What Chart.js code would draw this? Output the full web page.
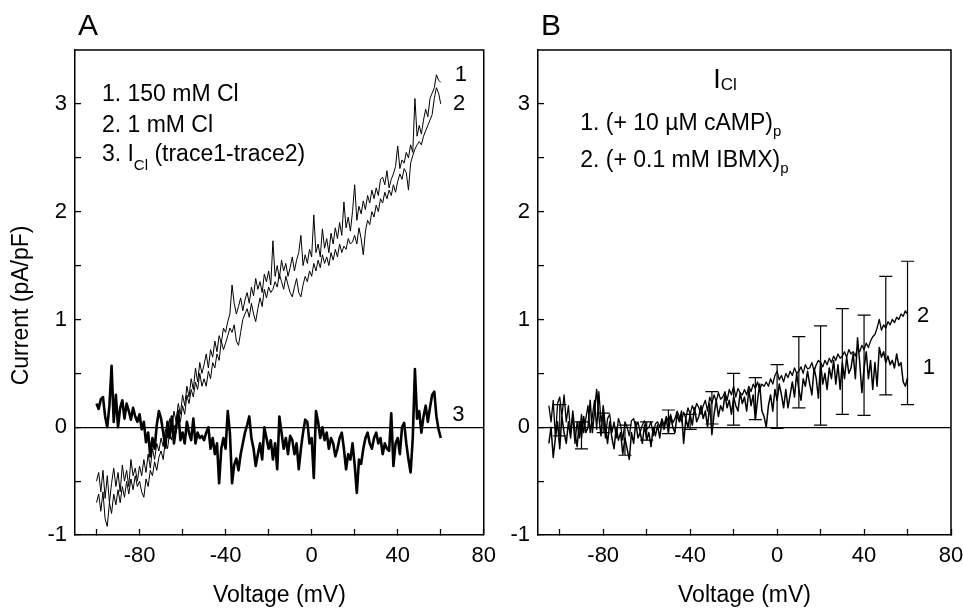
<!DOCTYPE html>
<html>
<head>
<meta charset="utf-8">
<title>I-V curves</title>
<script src="https://cdn.jsdelivr.net/npm/chart.js@4.4.1/dist/chart.umd.min.js"></script>
<style>
    html, body { margin: 0; padding: 0; background: #fff; }
    #wrap { position: relative; width: 963px; height: 609px; overflow: hidden; }
    #panel-a { position: absolute; left: 0; top: 0; }
    #panel-b { position: absolute; left: 480px; top: 0; }
</style>
</head>
<body>
<div id="wrap">
    <canvas id="panel-a" width="510" height="609"></canvas>
    <canvas id="panel-b" width="500" height="609"></canvas>
</div>
<script>
// Panel A: voltage steps of 1 mV from -100 to 60
const voltageA = Array.from({ length: 161 }, (_, i) => -100 + i);

// trace 1: 150 mM Cl
const currentA1 = [
    -0.50, -0.42, -0.60, -0.40, -0.66, -0.45, -0.70, -0.52, -0.38, -0.55,
    -0.42, -0.60, -0.35, -0.50, -0.40, -0.55, -0.30, -0.45, -0.38, -0.50,
    -0.36, -0.45, -0.30, -0.42, -0.25, -0.38, -0.20, -0.30, -0.15, -0.22,
    -0.10, -0.18, -0.02, -0.10, 0.08, -0.02, 0.15, 0.05, 0.22, 0.12,
    0.30, 0.20, 0.38, 0.28, 0.45, 0.35, 0.55, 0.42, 0.60, 0.50,
    0.58, 0.68, 0.55, 0.72, 0.65, 0.80, 0.70, 0.85, 0.78, 0.92,
    0.88, 0.98, 1.05, 1.32, 1.15, 1.05, 1.12, 1.20, 1.08, 1.18,
    1.25, 1.15, 1.30, 1.22, 1.38, 1.28, 1.35, 1.25, 1.42, 1.35,
    1.45, 1.32, 1.73, 1.40, 1.50, 1.38, 1.55, 1.45, 1.52, 1.40,
    1.48, 1.58, 1.45, 1.55, 1.62, 1.78, 1.50, 1.60, 1.52, 1.65,
    1.58, 1.97, 1.62, 1.70, 1.58, 1.84, 1.66, 1.75, 1.62, 1.80,
    1.70, 1.85, 1.75, 1.90, 1.78, 2.09, 1.85, 1.95, 1.82, 2.00,
    2.25, 1.92, 2.05, 1.98, 2.10, 2.02, 2.15, 2.08, 2.20, 2.12,
    2.22, 2.15, 2.30, 2.32, 2.25, 2.38, 2.22, 2.30, 2.35, 2.42,
    2.61, 2.40, 2.48, 2.45, 2.55, 2.50, 2.62, 2.55, 3.05, 2.70,
    2.80, 2.72, 2.85, 2.95, 2.88, 3.05, 3.10, 3.15, 3.27, 3.22, 3.20,
];

// trace 2: 1 mM Cl
const currentA2 = [
    -0.70, -0.62, -0.78, -0.60, -0.85, -0.92, -0.70, -0.80, -0.62, -0.72,
    -0.58, -0.70, -0.55, -0.65, -0.50, -0.62, -0.48, -0.58, -0.45, -0.55,
    -0.50, -0.60, -0.65, -0.48, -0.55, -0.40, -0.45, -0.32, -0.40, -0.28,
    -0.22, -0.30, -0.12, -0.20, -0.05, -0.12, 0.02, -0.05, 0.12, 0.05,
    0.20, 0.12, 0.30, 0.22, 0.35, 0.28, 0.42, 0.35, 0.50, 0.38,
    0.45, 0.38, 0.52, 0.45, 0.60, 0.55, 0.68, 0.62, 0.80, 0.72,
    0.78, 0.85, 0.92, 0.88, 0.95, 0.80, 0.76, 0.88, 1.00, 1.05,
    1.10, 1.02, 1.15, 1.05, 0.98, 1.10, 1.20, 1.12, 1.28, 1.20,
    1.30, 1.25, 1.28, 1.35, 1.30, 1.42, 1.35, 1.28, 1.40, 1.32,
    1.25, 1.21, 1.30, 1.38, 1.25, 1.21, 1.32, 1.40, 1.35, 1.45,
    1.40, 1.52, 1.45, 1.55, 1.48, 1.60, 1.52, 1.58, 1.50, 1.62,
    1.55, 1.65, 1.58, 1.70, 1.62, 1.68, 1.65, 1.75, 1.70, 1.72,
    1.78, 1.70, 1.85, 1.75, 1.60, 1.82, 1.92, 1.88, 2.00, 1.95,
    2.06, 2.00, 2.12, 2.08, 2.18, 2.12, 2.20, 2.15, 2.25, 2.18,
    2.28, 2.35, 2.30, 2.40, 2.36, 2.20, 2.45, 2.52, 2.58, 2.62,
    2.65, 2.62, 2.70, 2.75, 2.80, 2.85, 2.90, 3.05, 3.15, 3.10, 3.00,
];

// trace 3: I_Cl (trace1 - trace2)
const currentA3 = [
    0.22, 0.17, 0.26, 0.28, 0.10, 0.00, 0.20, 0.57, 0.05, 0.30,
    0.00, 0.18, 0.25, 0.08, 0.22, 0.15, 0.07, 0.18, 0.10, 0.05,
    0.12, -0.02, 0.05, -0.14, -0.05, -0.27, -0.10, -0.20, 0.02, 0.15,
    0.08, -0.05, -0.19, 0.05, -0.10, 0.10, -0.15, 0.00, 0.15, -0.12,
    -0.05, -0.15, 0.05, -0.05, -0.12, 0.08, -0.15, -0.05, -0.10, -0.08,
    -0.12, -0.05, 0.00, -0.20, -0.10, -0.25, -0.15, -0.52, -0.20, -0.10,
    -0.20, 0.15, -0.05, -0.52, -0.35, -0.29, -0.40, -0.25, -0.15, -0.05,
    0.02, 0.10, -0.10, -0.20, -0.36, -0.25, -0.15, -0.30, 0.00, -0.10,
    -0.20, -0.12, -0.30, -0.15, -0.39, 0.10, -0.05, -0.20, -0.10, -0.25,
    -0.08, -0.12, -0.25, -0.15, -0.39, -0.20, -0.05, 0.07, 0.05, -0.15,
    -0.10, -0.47, 0.15, 0.05, -0.10, 0.00, -0.12, -0.05, -0.20, -0.10,
    -0.15, -0.27, -0.20, -0.10, -0.05, -0.20, -0.39, -0.25, -0.30, -0.15,
    -0.35, -0.61, -0.30, -0.34, -0.20, -0.10, -0.05, -0.15, -0.20, -0.10,
    -0.05, -0.15, -0.10, -0.25, -0.15, -0.20, -0.22, 0.13, -0.36, -0.15,
    -0.10, -0.25, 0.00, 0.04, -0.15, -0.30, -0.42, -0.10, 0.54, 0.08,
    0.15, -0.05, 0.10, 0.20, 0.05, 0.18, 0.30, 0.33, 0.10, -0.02, -0.10,
];

// Panel B: voltage steps of 1 mV from -105 to 60
const voltageB = Array.from({ length: 166 }, (_, i) => -105 + i);

// trace 1: + 10 uM cAMP (pipette)
const currentB1 = [
    -0.15, 0.00, -0.28, -0.10, 0.05, -0.20, 0.10, -0.05, -0.15, 0.05,
    -0.10, 0.15, -0.05, -0.18, 0.05, -0.10, 0.10, -0.05, 0.00, 0.25,
    -0.05, 0.15, 0.35, 0.10, -0.08, 0.20, 0.00, -0.15, 0.05, -0.10,
    -0.20, 0.00, -0.12, -0.05, -0.25, -0.10, -0.20, -0.30, -0.05, -0.15,
    0.05, -0.10, -0.05, -0.15, 0.02, -0.12, -0.05, -0.18, 0.00, -0.08,
    0.02, -0.10, 0.05, -0.02, 0.08, -0.05, 0.10, 0.00, -0.05, 0.12,
    0.05, 0.15, -0.15, 0.08, 0.00, 0.12, 0.02, 0.18, 0.05, 0.10,
    0.20, 0.08, 0.15, 0.00, 0.22, -0.07, 0.12, 0.25, 0.10, 0.20,
    0.15, 0.30, 0.18, 0.25, 0.12, 0.28, 0.20, 0.15, 0.32, 0.22,
    0.28, 0.15, 0.35, 0.20, 0.30, 0.07, 0.25, 0.40, 0.15, 0.10,
    0.00, 0.20, 0.30, 0.15, 0.35, 0.25, 0.40, 0.30, 0.18, 0.35,
    0.18, 0.30, 0.42, 0.28, 0.50, 0.35, 0.25, 0.45, 0.38, 0.52,
    0.40, 0.30, 0.55, 0.45, 0.27, 0.60, 0.40, 0.50, 0.35, 0.55,
    0.45, 0.62, 0.40, 0.58, 0.35, 0.60, 0.45, 0.65, 0.50, 0.55,
    0.68, 0.45, 0.83, 0.60, 0.32, 0.55, 0.70, 0.45, 0.62, 0.35,
    0.60, 0.38, 0.74, 0.65, 0.70, 0.60, 0.66, 0.58, 0.62, 0.55,
    0.68, 0.57, 0.60, 0.42, 0.38, 0.46,
];

// trace 2: + 0.1 mM IBMX (pipette)
const currentB2 = [
    0.20, 0.05, 0.25, -0.10, 0.22, 0.28, 0.10, 0.30, 0.05, 0.20,
    -0.05, 0.10, -0.15, 0.05, -0.10, 0.12, -0.05, 0.08, 0.20, -0.05,
    0.10, 0.25, -0.02, 0.33, 0.05, 0.15, -0.10, 0.08, 0.12, -0.05,
    0.05, -0.10, 0.08, 0.02, -0.12, 0.05, 0.00, -0.08, 0.06, 0.08,
    0.00, 0.05, -0.05, 0.02, 0.06, -0.02, 0.00, 0.05, -0.08, 0.03,
    0.05, 0.00, 0.08, 0.02, 0.10, 0.05, 0.12, 0.04, 0.08, 0.15,
    0.10, 0.05, 0.14, 0.08, 0.18, 0.12, 0.20, 0.15, 0.22, 0.18,
    0.12, 0.20, 0.25, 0.15, 0.28, 0.22, 0.30, 0.24, 0.32, 0.26,
    0.28, 0.33, 0.25, 0.35, 0.30, 0.38, 0.28, 0.36, 0.32, 0.30,
    0.35, 0.30, 0.38, 0.33, 0.40, 0.36, 0.42, 0.35, 0.40, 0.38,
    0.42, 0.38, 0.45, 0.40, 0.48, 0.52, 0.44, 0.48, 0.42, 0.50,
    0.46, 0.52, 0.48, 0.55, 0.50, 0.52, 0.56, 0.50, 0.58, 0.54,
    0.55, 0.60, 0.52, 0.58, 0.62, 0.60, 0.56, 0.62, 0.58, 0.64,
    0.60, 0.66, 0.62, 0.68, 0.64, 0.66, 0.70, 0.65, 0.72, 0.68,
    0.70, 0.66, 0.74, 0.70, 0.76, 0.72, 0.78, 0.74, 0.80, 0.84,
    0.86, 0.92, 1.00, 0.90, 0.95, 0.92, 0.98, 0.95, 1.00, 0.97,
    1.02, 1.00, 1.05, 1.03, 1.08, 1.05,
];

// SEM bars, every 10 mV (upper cap belongs to trace 2, lower to trace 1)
const errVoltage = [-100, -90, -80, -70, -60, -50, -40, -30, -20, -10, 0, 10, 20, 30, 40, 50, 60];
const errHigh = [0.21, 0.05, 0.13, 0.02, 0.05, 0.16, 0.12, 0.33, 0.50, 0.46, 0.58, 0.84, 0.94, 1.10, 1.04, 1.40, 1.54];
const errLow = [-0.08, -0.20, -0.05, -0.26, -0.12, -0.06, -0.02, 0.03, 0.02, 0.07, -0.01, 0.18, 0.02, 0.12, 0.11, 0.30, 0.21];

const yTicks = [-1, 0, 1, 2, 3];
const xTicks = [-80, -40, 0, 40, 80];

const FONT = '"Liberation Sans", Arial, Helvetica, sans-serif';
const CAP_HALF = 3; // mV

Chart.defaults.font.family = FONT;
Chart.defaults.color = '#000';

function toPoints(xs, ys) {
    return ys.map((y, i) => ({ x: xs[i], y }));
}

function errorBarPoints() {
    const pts = [];
    errVoltage.forEach((v, i) => {
        const hi = errHigh[i];
        const lo = errLow[i];
        pts.push({ x: v, y: lo }, { x: v, y: hi }, { x: v, y: null });
        pts.push({ x: v - CAP_HALF, y: hi }, { x: v + CAP_HALF, y: hi }, { x: v, y: null });
        pts.push({ x: v - CAP_HALF, y: lo }, { x: v + CAP_HALF, y: lo }, { x: v, y: null });
    });
    return pts;
}

function lineSet(data, width) {
    return {
        data,
        borderColor: '#000',
        borderWidth: width,
        pointRadius: 0,
        tension: 0,
        fill: false,
        borderJoinStyle: 'round',
    };
}

// frame (top/right), panel letter, y title and in-plot text
const panelText = {
    id: 'panelText',
    afterDraw(chart, args, opts) {
        const { ctx, chartArea } = chart;
        const sx = chart.scales.x;
        const sy = chart.scales.y;
        ctx.save();
        ctx.strokeStyle = '#000';
        ctx.lineWidth = 1.5;
        ctx.beginPath();
        ctx.moveTo(chartArea.left, chartArea.top);
        ctx.lineTo(chartArea.right, chartArea.top);
        ctx.lineTo(chartArea.right, chartArea.bottom);
        ctx.stroke();

        ctx.fillStyle = '#000';
        ctx.textBaseline = 'alphabetic';
        ctx.textAlign = 'left';
        ctx.font = `30px ${FONT}`;
        ctx.fillText(opts.letter, chartArea.left + 3, 35);

        if (opts.yTitle) {
            ctx.save();
            ctx.translate(22, sy.getPixelForValue(1.13));
            ctx.rotate(-Math.PI / 2);
            ctx.textAlign = 'center';
            ctx.textBaseline = 'middle';
            ctx.font = `23px ${FONT}`;
            ctx.fillText(opts.yTitle, 0, 0);
            ctx.restore();
        }

        (opts.notes || []).forEach((n) => {
            let px = sx.getPixelForValue(n.v);
            const py = sy.getPixelForValue(n.i);
            n.parts.forEach((p) => {
                ctx.font = `${p.size}px ${FONT}`;
                ctx.fillText(p.text, px, py + (p.dy || 0));
                px += ctx.measureText(p.text).width;
            });
        });
        ctx.restore();
    },
};

function makeOptions(yWidth, padRight, yTitle, letter, notes) {
    return {
        responsive: false,
        animation: false,
        layout: { padding: { top: 50, right: padRight, left: 0, bottom: 0 } },
        plugins: {
            legend: { display: false },
            tooltip: { enabled: false },
            panelText: { letter, notes, yTitle },
        },
        scales: {
            x: {
                type: 'linear',
                min: -110,
                max: 80,
                afterBuildTicks: (s) => {
                    s.ticks = [-100, -80, -60, -40, -20, 0, 20, 40, 60, 80].map((value) => ({ value }));
                },
                ticks: {
                    autoSkip: false,
                    maxRotation: 0,
                    padding: 14,
                    font: { size: 22 },
                    callback: (v) => (xTicks.includes(v) ? String(v) : ''),
                },
                grid: { drawOnChartArea: false, tickLength: -6, tickColor: '#000', tickWidth: 1.3 },
                border: { display: true, color: '#000', width: 1.5 },
                title: { display: true, text: 'Voltage (mV)', font: { size: 23 }, padding: { top: 0, bottom: 0 } },
                afterFit: (s) => { s.height = 74; },
            },
            y: {
                type: 'linear',
                min: -1,
                max: 3.5,
                afterBuildTicks: (s) => {
                    s.ticks = [-1, -0.5, 0, 0.5, 1, 1.5, 2, 2.5, 3].map((value) => ({ value }));
                },
                ticks: {
                    padding: 14,
                    font: { size: 22 },
                    callback: (v) => (yTicks.includes(v) ? String(v) : ''),
                },
                grid: {
                    drawOnChartArea: true,
                    tickLength: -6,
                    tickColor: '#000',
                    tickWidth: 1.3,
                    lineWidth: 1.2,
                    color: (c) => (c.tick && c.tick.value === 0 ? '#000' : 'rgba(0,0,0,0)'),
                },
                border: { display: true, color: '#000', width: 1.5 },
                title: { display: false },
                afterFit: (s) => { s.width = yWidth; },
            },
        },
    };
}

const notesA = [
    { v: -97.5, i: 3.03, parts: [{ text: '1. 150 mM Cl', size: 23 }] },
    { v: -97.5, i: 2.74, parts: [{ text: '2. 1 mM Cl', size: 23 }] },
    { v: -97.5, i: 2.47, parts: [{ text: '3. I', size: 23 }, { text: 'Cl', size: 15, dy: 9 }, { text: ' (trace1-trace2)', size: 23 }] },
    { v: 66.5, i: 3.21, parts: [{ text: '1', size: 22 }] },
    { v: 65.7, i: 2.94, parts: [{ text: '2', size: 22 }] },
    { v: 65.3, i: 0.06, parts: [{ text: '3', size: 22 }] },
];

const notesB = [
    { v: -29.4, i: 3.15, parts: [{ text: 'I', size: 27 }, { text: 'Cl', size: 17, dy: 2 }] },
    { v: -90.6, i: 2.76, parts: [{ text: '1. (+ 10 \u00b5M cAMP)', size: 23 }, { text: 'p', size: 15, dy: 6 }] },
    { v: -90.6, i: 2.41, parts: [{ text: '2. (+ 0.1 mM IBMX)', size: 23 }, { text: 'p', size: 15, dy: 6 }] },
    { v: 64.4, i: 0.98, parts: [{ text: '2', size: 22 }] },
    { v: 67, i: 0.49, parts: [{ text: '1', size: 22 }] },
];

new Chart(document.getElementById('panel-a'), {
    type: 'line',
    data: {
        datasets: [
            lineSet(toPoints(voltageA, currentA1), 1),
            lineSet(toPoints(voltageA, currentA2), 1),
            lineSet(toPoints(voltageA, currentA3), 2.6),
        ],
    },
    options: makeOptions(75, 20, 'Current (pA/pF)', 'A', notesA),
    plugins: [panelText],
});

new Chart(document.getElementById('panel-b'), {
    type: 'line',
    data: {
        datasets: [
            lineSet(errorBarPoints(), 1.2),
            lineSet(toPoints(voltageB, currentB1), 1.5),
            lineSet(toPoints(voltageB, currentB2), 1.3),
        ],
    },
    options: makeOptions(58, 29, null, 'B', notesB),
    plugins: [panelText],
});
</script>
</body>
</html>
